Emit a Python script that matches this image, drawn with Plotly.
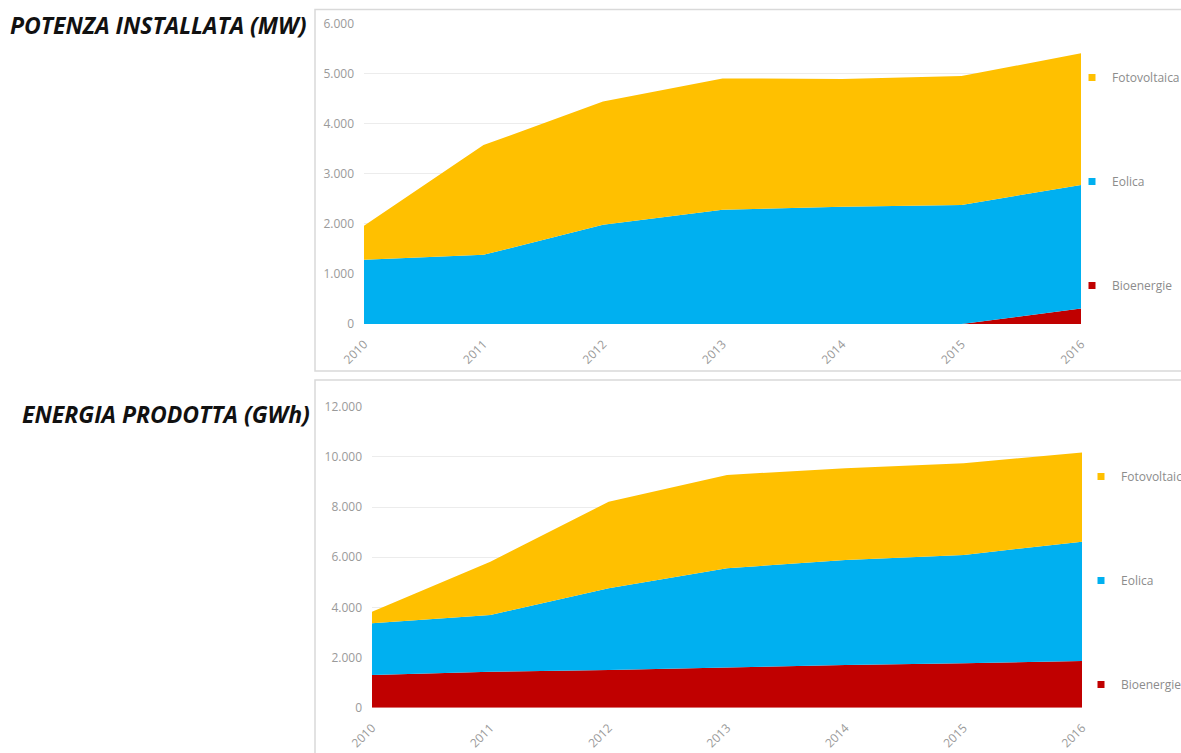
import plotly.graph_objects as go

years = ["2010", "2011", "2012", "2013", "2014", "2015", "2016"]

# POTENZA INSTALLATA (MW)
pot_bio = [0, 0, 0, 0, 0, 0, 310]
pot_eol = [1280, 1380, 1980, 2280, 2340, 2375, 2465]
pot_fv = [680, 2190, 2460, 2620, 2550, 2575, 2625]

# ENERGIA PRODOTTA (GWh)
en_bio = [1300, 1435, 1500, 1600, 1700, 1770, 1860]
en_eol = [2070, 2265, 3260, 3960, 4190, 4320, 4760]
en_fv = [460, 2120, 3450, 3720, 3655, 3655, 3550]

series_names = ["Bioenergie", "Eolica", "Fotovoltaica"]
colors = ["#C00000", "#00B0F0", "#FFC000"]

W, H = 1181, 753
def px_x(p): return p / W
def px_y(p): return 1 - p / H

fig = go.Figure()

def add_chart(data, xa, ya, stack, leg):
    for name, vals, col in zip(series_names, data, colors):
        fig.add_trace(go.Scatter(
            x=years, y=vals, name=name, stackgroup=stack, mode="none",
            fillcolor=col, xaxis=xa, yaxis=ya, showlegend=False,
            hovertemplate=name + ": %{y:,}<extra></extra>"))
    # legend entries, top to bottom: Fotovoltaica, Eolica, Bioenergie
    for name, col in zip(series_names[::-1], colors[::-1]):
        fig.add_trace(go.Scatter(
            x=[None], y=[None], name=name, mode="markers",
            marker=dict(symbol="square", size=7, color=col),
            xaxis=xa, yaxis=ya, legend=leg, legendgroup=leg + name))

add_chart([pot_bio, pot_eol, pot_fv], "x", "y", "one", "legend")
add_chart([en_bio, en_eol, en_fv], "x2", "y2", "two", "legend2")

tickfont = dict(family="Open Sans, sans-serif", size=12, color="#9a9a9a")
xcommon = dict(type="category", tickangle=-45, showgrid=False, zeroline=False,
               showline=False, ticks="", tickfont=tickfont, range=[0, 6],
               ticklabelstandoff=10, automargin=False, fixedrange=True)
ycommon = dict(showgrid=True, gridcolor="#ececec", gridwidth=1, zeroline=False,
               showline=False, ticks="", tickfont=tickfont, tickformat=",",
               ticklabelstandoff=9, automargin=False, fixedrange=True)

legcommon = dict(font=dict(family="Open Sans, sans-serif", size=12, color="#8c8c8c"),
                 bgcolor="rgba(0,0,0,0)", traceorder="grouped",
                 itemwidth=30, xanchor="left", yanchor="top", borderwidth=0)

fig.update_layout(
    width=W, height=H,
    margin=dict(l=0, r=0, t=0, b=0, pad=0, autoexpand=False),
    paper_bgcolor="white", plot_bgcolor="white",
    separators=",.",
    xaxis=dict(domain=[px_x(364), px_x(1081)], anchor="y", **xcommon),
    yaxis=dict(domain=[px_y(324), px_y(23.3)], anchor="x", range=[0, 6000],
               dtick=1000, **ycommon),
    xaxis2=dict(domain=[px_x(372), px_x(1082)], anchor="y2", **xcommon),
    yaxis2=dict(domain=[px_y(707.7), px_y(406.7)], anchor="x2", range=[0, 12000],
                dtick=2000, **ycommon),
    legend=dict(x=px_x(1072), y=px_y(63), tracegroupgap=85, **legcommon),
    legend2=dict(x=px_x(1081), y=px_y(462), tracegroupgap=85, **legcommon),
    showlegend=True,
    shapes=[
        dict(type="rect", xref="paper", yref="paper", x0=px_x(315), x1=px_x(1190),
             y0=px_y(371), y1=px_y(9.5), line=dict(color="#d9d9d9", width=1.5),
             fillcolor="rgba(0,0,0,0)", layer="below"),
        dict(type="rect", xref="paper", yref="paper", x0=px_x(315), x1=px_x(1190),
             y0=px_y(770), y1=px_y(380), line=dict(color="#d9d9d9", width=1.5),
             fillcolor="rgba(0,0,0,0)", layer="below"),
    ],
    annotations=[
        dict(text="<b><i>POTENZA INSTALLATA (MW)</i></b>", xref="paper", yref="paper",
             x=px_x(8), y=px_y(25), xanchor="left", yanchor="middle", showarrow=False,
             font=dict(family="Open Sans, sans-serif", size=23, color="#111111")),
        dict(text="<b><i>ENERGIA PRODOTTA (GWh)</i></b>", xref="paper", yref="paper",
             x=px_x(20), y=px_y(414), xanchor="left", yanchor="middle", showarrow=False,
             font=dict(family="Open Sans, sans-serif", size=23, color="#111111")),
    ],
)

# remove the default 8px page margin so the figure fills the window exactly
fig.write_html("out.html",
               config={"displayModeBar": False},
               post_script="document.body.style.margin='0px';"
                           "document.body.style.overflow='hidden';")
